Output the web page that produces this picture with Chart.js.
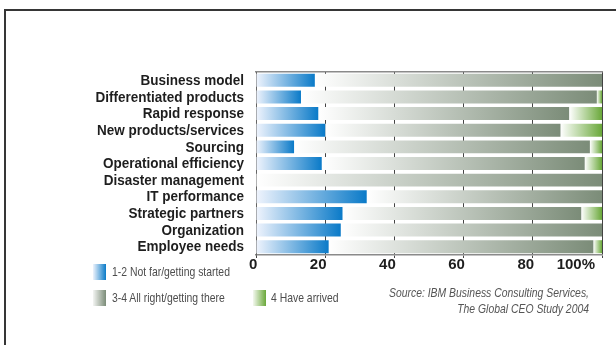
<!DOCTYPE html>
<html>
<head>
<meta charset="utf-8">
<script src="https://cdn.jsdelivr.net/npm/chart.js@4.4.0/dist/chart.umd.min.js"></script>
<style>
	body { margin: 0; background: #fff; }
	#wrap { position: relative; width: 616px; height: 345px; overflow: hidden; }
	#frame { position: absolute; left: 4px; top: 9px; width: 700px; height: 400px; border-top: 2px solid #363636; border-left: 2px solid #363636; }
	#myChart { position: absolute; left: 0; top: 0; }
	.leg { position: absolute; font: 13px "Liberation Sans", Arial, sans-serif; color: #4d4d4d; line-height: 16px; white-space: nowrap; transform: scaleX(0.8); transform-origin: left center; }
	.sw { position: absolute; width: 13px; height: 16px; }
	#src { position: absolute; right: 27px; top: 285px; text-align: right; font: italic 13px "Liberation Sans", Arial, sans-serif; color: #555; line-height: 16px; white-space: nowrap; transform: scaleX(0.8); transform-origin: right center; }
</style>
</head>
<body>
<div id="wrap">
	<div id="frame"></div>
	<canvas id="myChart" width="616" height="345"></canvas>
	<div class="sw" style="left:93px;top:264px;background:linear-gradient(to right,#eef3fc,#0a7bc8)"></div>
	<div class="leg" style="left:112px;top:264px">1-2 Not far/getting started</div>
	<div class="sw" style="left:93px;top:290px;background:linear-gradient(to right,#f4f5f3,#7b8c78)"></div>
	<div class="leg" style="left:112px;top:290px">3-4 All right/getting there</div>
	<div class="sw" style="left:253px;top:290px;background:linear-gradient(to right,#f4f8ef,#6aa83a)"></div>
	<div class="leg" style="left:271px;top:290px">4 Have arrived</div>
	<div id="src">Source: IBM Business Consulting Services,<br>The Global CEO Study 2004</div>
</div>
<script>
var categories = ["Business model", "Differentiated products", "Rapid response", "New products/services", "Sourcing", "Operational efficiency", "Disaster management", "IT performance", "Strategic partners", "Organization", "Employee needs"];
var notFar = [17, 13, 18, 20, 11, 19, 0, 32, 25, 24.5, 21];
var allRight = [83, 85.5, 72.5, 68, 85.5, 76, 100, 68, 69, 75.5, 76.5];
var arrived = [0, 1.5, 9.5, 12, 3.5, 5, 0, 0, 6, 0, 2.5];
var xTicks = [0, 20, 40, 60, 80, 100];

// gradient across each segment, light on the left
function segColor(light, dark) {
	return function(c) {
		var chart = c.chart;
		if (!chart.chartArea || c.dataIndex === undefined) return dark;
		var xs = chart.scales.x;
		var start = 0;
		for (var d = 0; d < c.datasetIndex; d++) start += chart.data.datasets[d].data[c.dataIndex];
		var end = start + chart.data.datasets[c.datasetIndex].data[c.dataIndex];
		var x0 = xs.getPixelForValue(start), x1 = xs.getPixelForValue(end);
		if (x1 - x0 < 1) return dark;
		var g = chart.ctx.createLinearGradient(x0, 0, x1, 0);
		g.addColorStop(0, light);
		g.addColorStop(1, dark);
		return g;
	};
}

// category names, squeezed like a condensed face
var narrowLabels = {
	id: "narrowLabels",
	afterDraw: function(chart) {
		var ys = chart.scales.y;
		var c = chart.ctx;
		var right = chart.chartArea.left - 12;
		c.save();
		c.font = "bold 15px 'Liberation Sans', Arial, sans-serif";
		c.fillStyle = "#1e1e1e";
		c.textAlign = "right";
		c.textBaseline = "middle";
		for (var i = 0; i < categories.length; i++) {
			c.save();
			c.translate(right, ys.getPixelForValue(i) + 0.5);
			c.scale(0.9, 1);
			c.fillText(categories[i], 0, 0);
			c.restore();
		}
		c.restore();
	}
};

document.addEventListener("DOMContentLoaded", function() {
	var ctx = document.getElementById("myChart").getContext("2d");
	new Chart(ctx, {
		type: "bar",
		data: {
			labels: categories,
			datasets: [
				{ label: "1-2 Not far/getting started", data: notFar, backgroundColor: segColor("#f0f4fd", "#0a7ac8") },
				{ label: "3-4 All right/getting there", data: allRight, backgroundColor: segColor("#ffffff", "#7b8c78") },
				{ label: "4 Have arrived", data: arrived, backgroundColor: segColor("#ffffff", "#6aa83a") }
			]
		},
		plugins: [narrowLabels],
		options: {
			indexAxis: "y",
			responsive: false,
			animation: false,
			barPercentage: 0.78,
			categoryPercentage: 1,
			layout: { padding: { top: 72, right: 14, bottom: 73, left: 96 } },
			plugins: { legend: { display: false }, tooltip: { enabled: false } },
			scales: {
				x: {
					stacked: true, min: 0, max: 100,
					afterBuildTicks: function(s) { s.ticks = xTicks.map(function(v) { return { value: v }; }); },
					grid: { color: "#444", lineWidth: 1, tickLength: 3 },
					border: { color: "#8a8a8a", width: 1.5 },
					ticks: {
						align: "inner", labelOffset: -7, padding: -2, color: "#1e1e1e",
						font: { family: "'Liberation Sans', Arial, sans-serif", weight: "bold", size: 15 },
						callback: function(v) { return v === 100 ? "100%" : v; }
					}
				},
				x2: {
					position: "top", type: "linear", min: 0, max: 100,
					grid: { display: false, drawTicks: false },
					ticks: { display: false },
					border: { color: "#8a8a8a", width: 1.5 }
				},
				y: {
					stacked: true,
					afterFit: function(s) { s.width = 160; },
					grid: { display: false, drawTicks: false },
					border: { color: "#666" },
					ticks: { display: false }
				}
			}
		}
	});
});
</script>
</body>
</html>
